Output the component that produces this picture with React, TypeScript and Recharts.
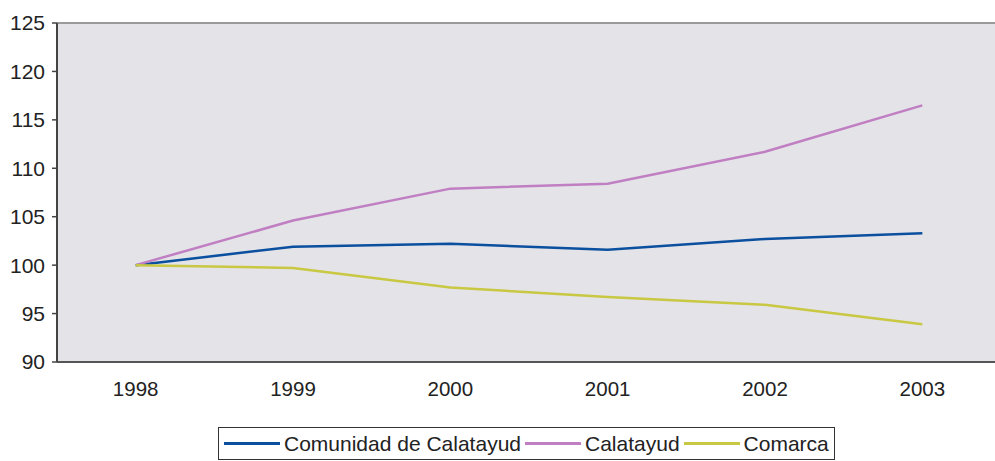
import {
  CartesianGrid,
  Line,
  LineChart,
  ReferenceLine,
  XAxis,
  YAxis,
} from "recharts";

const years = ["1998", "1999", "2000", "2001", "2002", "2003"];
const comunidad = [100, 101.9, 102.2, 101.6, 102.7, 103.3];
const calatayud = [100, 104.6, 107.9, 108.4, 111.7, 116.5];
const comarca = [100, 99.7, 97.7, 96.7, 95.9, 93.9];
const yTicks = [90, 95, 100, 105, 110, 115, 120, 125];

const series = [
  { key: "comunidad", name: "Comunidad de Calatayud", color: "#0b4f9f" },
  { key: "calatayud", name: "Calatayud", color: "#c07fc2" },
  { key: "comarca", name: "Comarca", color: "#c8c842" },
];

const data = years.map((year, i) => ({
  x: i,
  year,
  comunidad: comunidad[i],
  calatayud: calatayud[i],
  comarca: comarca[i],
}));

const labelTicks = years.map((_, i) => i);
const boundaryTicks = [...years.map((_, i) => i - 0.5), years.length - 0.5];

const font = "'Liberation Sans', Arial, sans-serif";

export default function App() {
  return (
    <div style={{ position: "relative", width: 1003, height: 461, fontFamily: font }}>
      <style>{"body{margin:0;overflow:hidden}"}</style>
      <LineChart
        width={1003}
        height={461}
        data={data}
        margin={{ top: 23, right: 2, left: 0, bottom: 59 }}
      >
        <CartesianGrid fill="#e4e3e8" horizontal={false} vertical={false} stroke="none" />
        <XAxis
          xAxisId="marks"
          dataKey="x"
          type="number"
          domain={[-0.5, years.length - 0.5]}
          ticks={boundaryTicks}
          tick={false}
          tickSize={5}
          height={0}
          axisLine={false}
          tickLine={{ stroke: "#444", strokeWidth: 1.5 }}
        />
        <XAxis
          dataKey="x"
          type="number"
          domain={[-0.5, years.length - 0.5]}
          ticks={labelTicks}
          tickFormatter={(v) => years[v]}
          tickLine={false}
          tickMargin={13}
          height={40}
          axisLine={{ stroke: "#555", strokeWidth: 2 }}
          tick={{ fill: "#222", fontSize: 20.5, fontFamily: font }}
        />
        <YAxis
          domain={[90, 125]}
          ticks={yTicks}
          width={57}
          tickSize={5}
          tickMargin={7}
          interval={0}
          axisLine={{ stroke: "#444", strokeWidth: 2 }}
          tickLine={{ stroke: "#444", strokeWidth: 1.5 }}
          tick={{ fill: "#222", fontSize: 21, fontFamily: font }}
        />
        <ReferenceLine y={125} stroke="#9a9a9a" strokeWidth={2} />
        {series.map((s) => (
          <Line
            key={s.key}
            dataKey={s.key}
            name={s.name}
            stroke={s.color}
            strokeWidth={2.5}
            dot={false}
            type="linear"
            isAnimationActive={false}
          />
        ))}
      </LineChart>
      <div
        style={{
          position: "absolute",
          left: 218,
          top: 427,
          width: 617,
          height: 33,
          border: "1px solid #333",
          display: "flex",
          alignItems: "center",
          fontSize: 21,
          color: "#222",
          boxSizing: "border-box",
          paddingLeft: 5,
          whiteSpace: "nowrap",
        }}
      >
        {series.map((s) => (
          <span key={s.key} style={{ display: "inline-flex", alignItems: "center" }}>
            <span
              style={{
                display: "inline-block",
                width: 56,
                height: 3,
                background: s.color,
                marginRight: 4,
              }}
            />
            <span style={{ marginRight: 4 }}>{s.name}</span>
          </span>
        ))}
      </div>
    </div>
  );
}
